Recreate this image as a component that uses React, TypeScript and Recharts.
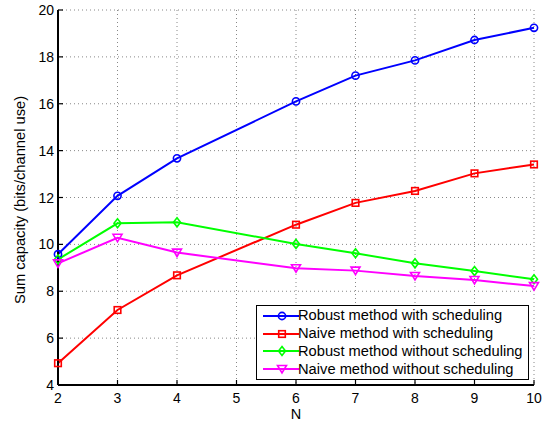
import React from "react";
import {
  LineChart,
  Line,
  XAxis,
  YAxis,
  CartesianGrid,
  Label,
} from "recharts";

const nValues = [2, 3, 4, 6, 7, 8, 9, 10];
const robustSched = [9.58, 12.07, 13.67, 16.1, 17.2, 17.85, 18.72, 19.24];
const naiveSched = [4.93, 7.2, 8.68, 10.84, 11.77, 12.28, 13.03, 13.41];
const robustNoSched = [9.36, 10.9, 10.94, 10.02, 9.62, 9.19, 8.86, 8.51];
const naiveNoSched = [9.19, 10.28, 9.65, 8.98, 8.88, 8.65, 8.48, 8.22];
const xTicks = [2, 3, 4, 5, 6, 7, 8, 9, 10];
const yTicks = [4, 6, 8, 10, 12, 14, 16, 18, 20];

const seriesNames = [
  "Robust method with scheduling",
  "Naive method with scheduling",
  "Robust method without scheduling",
  "Naive method without scheduling",
];

const data = nValues.map((n, i) => ({
  n,
  rs: robustSched[i],
  ns: naiveSched[i],
  rn: robustNoSched[i],
  nn: naiveNoSched[i],
}));

const FONT = "'Liberation Sans', Arial, Helvetica, sans-serif";
const COLORS = ["#0000ff", "#ff0000", "#00ff00", "#ff00ff"];
const SHAPES = ["circle", "square", "diamond", "triangle"];

function Marker({ cx, cy, shape, color }: any) {
  if (cx == null || cy == null) return null;
  const sw = 1.6;
  if (shape === "circle")
    return <circle cx={cx} cy={cy} r={3.6} fill="none" stroke={color} strokeWidth={sw} />;
  if (shape === "square")
    return (
      <rect x={cx - 3.3} y={cy - 3.3} width={6.6} height={6.6} fill="none" stroke={color} strokeWidth={sw} />
    );
  if (shape === "diamond")
    return (
      <polygon
        points={`${cx},${cy - 4.5} ${cx + 3.5},${cy} ${cx},${cy + 4.5} ${cx - 3.5},${cy}`}
        fill="none"
        stroke={color}
        strokeWidth={sw}
      />
    );
  return (
    <polygon
      points={`${cx - 4.5},${cy - 3.5} ${cx + 4.5},${cy - 3.5} ${cx},${cy + 4}`}
      fill="none"
      stroke={color}
      strokeWidth={sw}
    />
  );
}

const makeDot = (idx: number) => (props: any) =>
  <Marker key={`d${idx}-${props.index}`} cx={props.cx} cy={props.cy} shape={SHAPES[idx]} color={COLORS[idx]} />;

const BottomTick = (props: any) => {
  const { x, y, payload } = props;
  return (
    <g>
      <line x1={x} y1={y} x2={x} y2={y - 5} stroke="#000" strokeWidth={1.2} />
      <text x={x} y={y + 18} textAnchor="middle" fontFamily={FONT} fontSize={14} fill="#000">
        {payload.value}
      </text>
    </g>
  );
};

const TopTick = (props: any) => {
  const { x, y } = props;
  return <line x1={x} y1={y} x2={x} y2={y + 5} stroke="#000" strokeWidth={1.2} />;
};

const LeftTick = (props: any) => {
  const { x, y, payload } = props;
  return (
    <g>
      <line x1={x} y1={y} x2={x + 5} y2={y} stroke="#000" strokeWidth={1.2} />
      <text x={x - 4} y={y + 5} textAnchor="end" fontFamily={FONT} fontSize={14} fill="#000">
        {payload.value}
      </text>
    </g>
  );
};

const RightTick = (props: any) => {
  const { x, y } = props;
  return <line x1={x} y1={y} x2={x - 5} y2={y} stroke="#000" strokeWidth={1.2} />;
};

const LegendBox = () => (
  <div
    style={{
      position: "absolute",
      left: 256,
      top: 305,
      border: "1px solid #000",
      background: "#fff",
      width: 273,
      height: 75,
      boxSizing: "border-box",
      paddingTop: 1,
      fontFamily: FONT,
      fontSize: 14.7,
    }}
  >
    {seriesNames.map((name, i) => (
      <div key={name} style={{ display: "flex", alignItems: "center", height: 17.8 }}>
        <svg width={40} height={14} style={{ marginLeft: 5, flex: "none" }}>
          <line x1={1} y1={7} x2={37} y2={7} stroke={COLORS[i]} strokeWidth={2} />
          <Marker cx={20} cy={7} shape={SHAPES[i]} color={COLORS[i]} />
        </svg>
        <span style={{ marginLeft: -4, whiteSpace: "nowrap", lineHeight: "17px" }}>{name}</span>
      </div>
    ))}
  </div>
);

export default function App() {
  const keys = ["rs", "ns", "rn", "nn"];
  return (
    <div style={{ position: "absolute", left: 0, top: 0, width: 553, height: 421, background: "#fff" }}>
      <LineChart
        width={553}
        height={421}
        data={data}
        margin={{ top: 10, right: 19, bottom: 0, left: 0 }}
      >
        <CartesianGrid stroke="#888" strokeDasharray="1 3" strokeWidth={1} />
        <XAxis
          dataKey="n"
          type="number"
          domain={[2, 10]}
          ticks={xTicks}
          height={36}
          tickSize={0}
          tickMargin={0}
          tickLine={false}
          axisLine={{ stroke: "#000", strokeWidth: 2 }}
          tick={<BottomTick />}
          interval={0}
        >
          <Label
            content={() => (
              <text x={296} y={419} textAnchor="middle" fontFamily={FONT} fontSize={14.5} fill="#000">
                N
              </text>
            )}
          />
        </XAxis>
        <XAxis
          xAxisId="top"
          orientation="top"
          dataKey="n"
          type="number"
          domain={[2, 10]}
          ticks={xTicks}
          height={0}
          tickSize={0}
          tickMargin={0}
          tickLine={false}
          axisLine={{ stroke: "#000", strokeWidth: 2 }}
          tick={<TopTick />}
          interval={0}
        />
        <YAxis
          type="number"
          domain={[4, 20]}
          ticks={yTicks}
          width={58}
          tickSize={0}
          tickMargin={0}
          tickLine={false}
          axisLine={{ stroke: "#000", strokeWidth: 2 }}
          tick={<LeftTick />}
          interval={0}
        >
          <Label
            content={() => (
              <text
                x={20}
                y={200}
                transform="rotate(-90 20 200)"
                textAnchor="middle"
                dominantBaseline="central"
                fontFamily={FONT}
                fontSize={14.7}
                fill="#000"
              >
                Sum capacity (bits/channel use)
              </text>
            )}
          />
        </YAxis>
        <YAxis
          yAxisId="right"
          orientation="right"
          type="number"
          domain={[4, 20]}
          ticks={yTicks}
          width={0}
          tickSize={0}
          tickMargin={0}
          tickLine={false}
          axisLine={{ stroke: "#000", strokeWidth: 2 }}
          tick={<RightTick />}
          interval={0}
        />
        {keys.map((k, i) => (
          <Line
            key={k}
            dataKey={k}
            name={seriesNames[i]}
            stroke={COLORS[i]}
            strokeWidth={2}
            dot={makeDot(i)}
            activeDot={false}
            isAnimationActive={false}
            type="linear"
          />
        ))}
      </LineChart>
      <LegendBox />
    </div>
  );
}
